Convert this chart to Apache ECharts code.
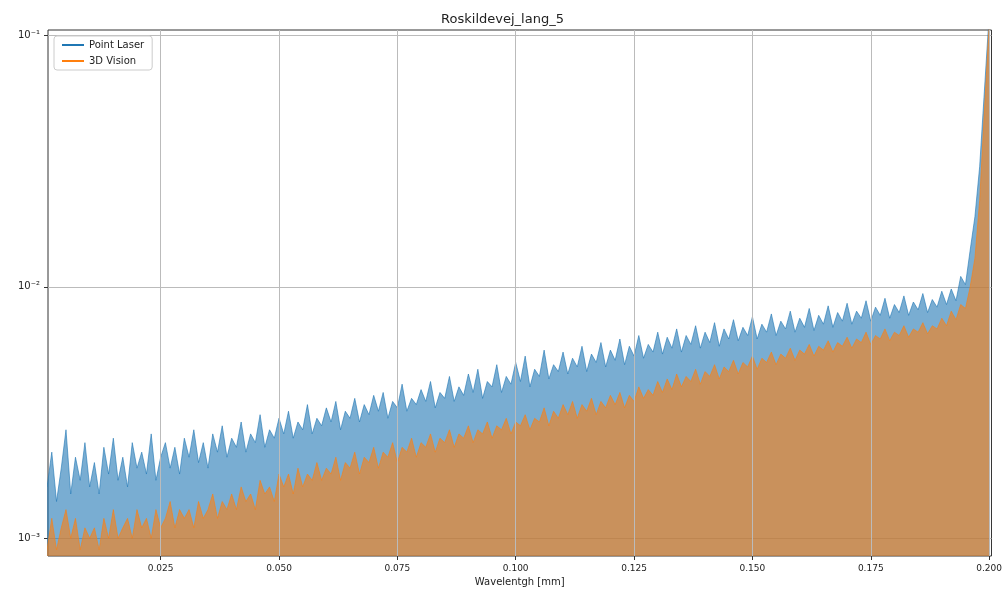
<!DOCTYPE html>
<html>
<head>
<meta charset="utf-8">
<script src="https://cdn.jsdelivr.net/npm/echarts@6/dist/echarts.min.js"></script>
<style>html,body{margin:0;padding:0;background:#fff}#ec{width:1005px;height:593px}</style>
</head>
<body>
<div id="ec"></div>
<script>
// x positions: 0.001 .. 0.200 mm, step 0.001
var xValues = []
for (var i = 1; i <= 200; i++) xValues.push(+(i * 0.001).toFixed(3))

var pointLaser = [
  0.0016,0.0022,0.0014,0.0019,0.0027,0.0015,0.0021,0.0017,0.0024,0.0016,
  0.0020,0.0015,0.0023,0.0018,0.0025,0.0017,0.0021,0.0016,0.0024,0.0019,
  0.0022,0.0018,0.0026,0.0017,0.0021,0.0024,0.0019,0.0023,0.0018,0.0025,
  0.0021,0.0027,0.0020,0.0024,0.0019,0.0026,0.0022,0.0028,0.0021,0.0025,
  0.0023,0.0029,0.0022,0.0026,0.0024,0.0031,0.0023,0.0027,0.0025,0.0030,
  0.0026,0.0032,0.0025,0.0029,0.0027,0.0034,0.0026,0.0030,0.0028,0.0033,
  0.0029,0.0035,0.0027,0.0032,0.0030,0.0036,0.0029,0.0034,0.0031,0.0037,
  0.0032,0.0038,0.0030,0.0035,0.0033,0.0041,0.0032,0.0036,0.0034,0.0039,
  0.0035,0.0042,0.0033,0.0038,0.0036,0.0044,0.0035,0.0040,0.0037,0.0045,
  0.0038,0.0047,0.0036,0.0042,0.0040,0.0049,0.0038,0.0044,0.0041,0.0050,
  0.0042,0.0053,0.0040,0.0047,0.0044,0.0056,0.0043,0.0049,0.0046,0.0055,
  0.0045,0.0052,0.0048,0.0058,0.0046,0.0054,0.0050,0.0060,0.0048,0.0056,
  0.0051,0.0062,0.0049,0.0058,0.0053,0.0064,0.0052,0.0059,0.0055,0.0066,
  0.0054,0.0063,0.0057,0.0068,0.0055,0.0064,0.0059,0.0070,0.0057,0.0066,
  0.0060,0.0072,0.0058,0.0068,0.0062,0.0074,0.0061,0.0069,0.0064,0.0076,
  0.0062,0.0071,0.0066,0.0078,0.0064,0.0073,0.0068,0.0080,0.0066,0.0075,
  0.0069,0.0082,0.0067,0.0077,0.0071,0.0084,0.0069,0.0079,0.0073,0.0086,
  0.0071,0.0080,0.0075,0.0088,0.0073,0.0083,0.0077,0.0090,0.0075,0.0085,
  0.0079,0.0092,0.0077,0.0087,0.0081,0.0094,0.0079,0.0089,0.0083,0.0096,
  0.0085,0.0098,0.0088,0.0110,0.0102,0.0140,0.0190,0.0300,0.0600,0.1200
]

var vision3d = [
  0.0009,0.0012,0.0009,0.0011,0.0013,0.0010,0.0012,0.0009,0.0011,0.0010,
  0.0011,0.0009,0.0012,0.0010,0.0013,0.0010,0.0011,0.0012,0.0010,0.0013,
  0.0011,0.0012,0.0010,0.0013,0.0011,0.0012,0.0014,0.0011,0.0013,0.0012,
  0.0013,0.0011,0.0014,0.0012,0.0013,0.0015,0.0012,0.0014,0.0013,0.0015,
  0.0013,0.0016,0.0014,0.0015,0.0013,0.0017,0.0015,0.0016,0.0014,0.0018,
  0.0016,0.0018,0.0015,0.0019,0.0016,0.0018,0.0017,0.0020,0.0017,0.0019,
  0.0018,0.0021,0.0017,0.0020,0.0019,0.0022,0.0018,0.0021,0.0020,0.0023,
  0.0019,0.0022,0.0021,0.0024,0.0020,0.0023,0.0022,0.0025,0.0021,0.0024,
  0.0023,0.0026,0.0022,0.0025,0.0024,0.0027,0.0023,0.0026,0.0025,0.0028,
  0.0024,0.0027,0.0026,0.0029,0.0025,0.0028,0.0027,0.0030,0.0026,0.0029,
  0.0028,0.0031,0.0027,0.0030,0.0029,0.0033,0.0028,0.0032,0.0030,0.0034,
  0.0031,0.0035,0.0030,0.0034,0.0032,0.0036,0.0031,0.0035,0.0033,0.0037,
  0.0034,0.0038,0.0033,0.0037,0.0035,0.0040,0.0036,0.0039,0.0037,0.0042,
  0.0038,0.0043,0.0039,0.0045,0.0040,0.0044,0.0042,0.0047,0.0041,0.0046,
  0.0044,0.0049,0.0043,0.0048,0.0046,0.0051,0.0045,0.0050,0.0048,0.0053,
  0.0047,0.0052,0.0050,0.0055,0.0049,0.0054,0.0052,0.0057,0.0051,0.0056,
  0.0054,0.0059,0.0053,0.0058,0.0056,0.0061,0.0055,0.0060,0.0058,0.0063,
  0.0057,0.0062,0.0060,0.0066,0.0059,0.0064,0.0062,0.0068,0.0061,0.0066,
  0.0064,0.0070,0.0063,0.0068,0.0066,0.0072,0.0065,0.0070,0.0068,0.0075,
  0.0070,0.0080,0.0074,0.0085,0.0082,0.0100,0.0130,0.0220,0.0500,0.1100
]

var xTicks = [0.025, 0.050, 0.075, 0.100, 0.125, 0.150, 0.175, 0.200]
var yTicks = [0.001, 0.01, 0.1]
var sup = { '0.001': '10⁻³', '0.01': '10⁻²', '0.1': '10⁻¹' }
var yMin = 0.00085, yMax = 0.105

function pairs(ys) { return ys.map(function (y, i) { return [xValues[i], y] }) }

var myEchart = echarts.init(document.getElementById('ec'))
myEchart.setOption({
  animation: false,
  textStyle: { fontFamily: 'DejaVu Sans' },
  title: { text: 'Roskildevej_lang_5', left: 'center', top: 8, textStyle: { fontSize: 13, fontWeight: 'normal', color: '#222' } },
  legend: {
    left: 54, top: 36, orient: 'vertical', itemWidth: 22, itemHeight: 2, itemGap: 6,
    backgroundColor: 'rgba(255,255,255,0.8)', borderColor: '#ccc', borderWidth: 1, borderRadius: 3, padding: [4, 8],
    textStyle: { fontSize: 10, color: '#222' },
    data: [{ name: 'Point Laser', icon: 'rect' }, { name: '3D Vision', icon: 'rect' }]
  },
  grid: { left: 48, right: 13, top: 30, bottom: 37, show: true, borderColor: '#333', borderWidth: 1 },
  xAxis: {
    type: 'value', min: 0.0012, max: 0.2005,
    name: 'Wavelentgh [mm]', nameLocation: 'middle', nameGap: 20, nameTextStyle: { fontSize: 10, color: '#222' },
    axisLine: { show: false },
    axisTick: { customValues: xTicks, length: 4, lineStyle: { color: '#333' } },
    axisLabel: { customValues: xTicks, fontSize: 9, color: '#222', formatter: function (v) { return v.toFixed(3) } },
    splitLine: { show: false }
  },
  yAxis: {
    type: 'log', logBase: 10, min: yMin, max: yMax,
    axisLine: { show: false },
    axisTick: { customValues: yTicks, length: 4, lineStyle: { color: '#333' } },
    axisLabel: { customValues: yTicks, fontSize: 10, color: '#222', formatter: function (v) { return sup[String(+v.toPrecision(3))] || '' } },
    splitLine: { show: true, lineStyle: { color: '#bbb' } }
  },
  series: [
    {
      name: 'Point Laser', type: 'line', symbol: 'none', z: 2,
      data: pairs(pointLaser),
      itemStyle: { color: '#1f77b4' },
      lineStyle: { color: '#1f77b4', width: 1, opacity: 0.6 },
      areaStyle: { color: '#1f77b4', opacity: 0.6, origin: 'start' },
      markLine: {
        silent: true, symbol: 'none', label: { show: false },
        lineStyle: { color: '#bbb', type: 'solid', width: 1 },
        data: xTicks.map(function (t) { return [{ coord: [t, yMin] }, { coord: [t, yMax] }] })
      }
    },
    {
      name: '3D Vision', type: 'line', symbol: 'none', z: 3,
      data: pairs(vision3d),
      itemStyle: { color: '#ff7f0e' },
      lineStyle: { color: '#ff7f0e', width: 1, opacity: 0.6 },
      areaStyle: { color: '#ff7f0e', opacity: 0.6, origin: 'start' }
    }
  ]
})
</script>
</body>
</html>
